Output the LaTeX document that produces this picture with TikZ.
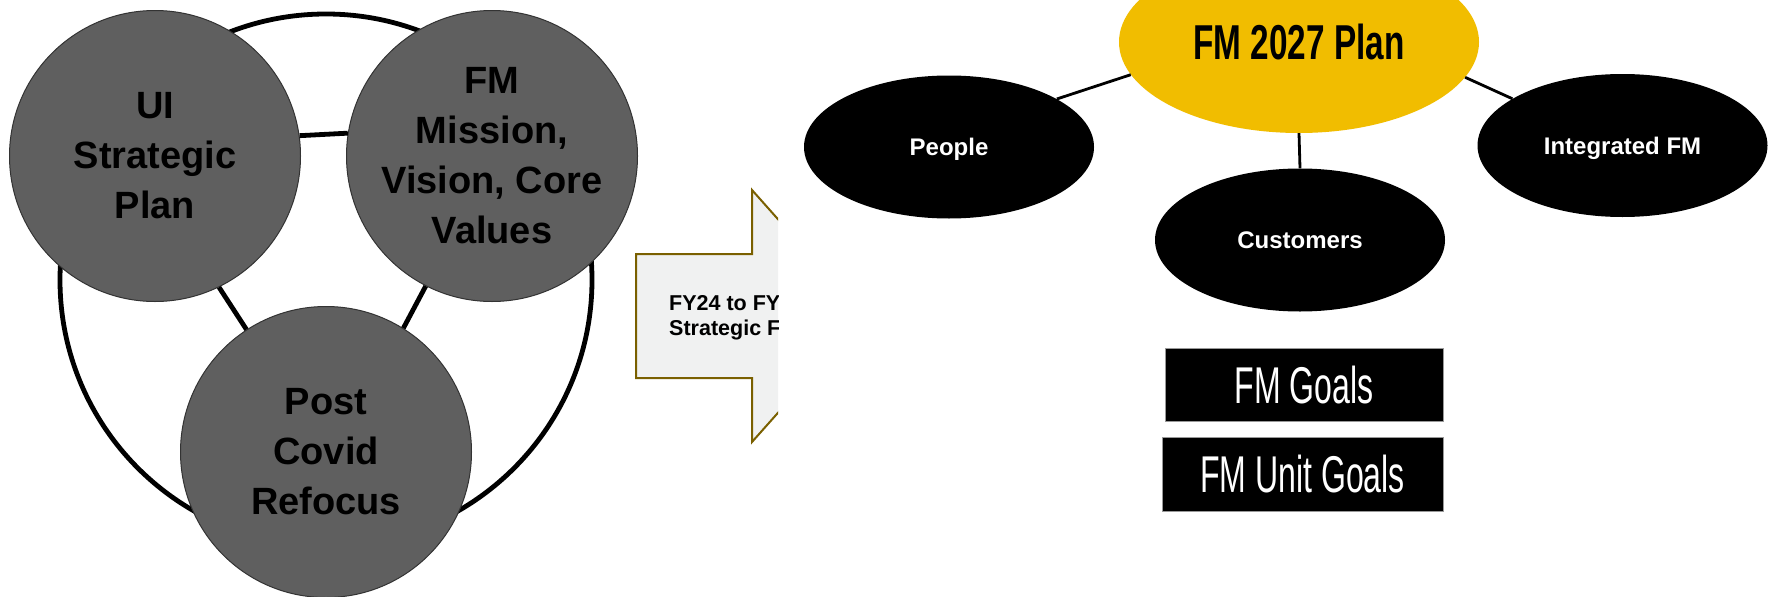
\documentclass[tikz,border=0pt]{standalone}
\usepackage{fontspec}
\setmainfont{Liberation Sans}
\newfontfamily\condbold[FakeStretch=0.68]{Liberation Sans}
\newfontfamily\condlight[FakeStretch=0.62]{Liberation Sans}
\usetikzlibrary{shapes.geometric}
\definecolor{circgray}{RGB}{95,95,95}
\definecolor{plangold}{RGB}{241,189,0}
\definecolor{arrowfill}{RGB}{240,241,241}
\definecolor{arrowedge}{RGB}{122,96,0}
\begin{document}
\begin{tikzpicture}[x=1pt,y=-1pt,
  bigcirc/.style={circle, fill=circgray, draw=black!80, line width=1pt, minimum size=291pt, inner sep=0pt, align=center, font=\fontsize{38}{50}\selectfont\bfseries},
  ringstyle/.style={circle, draw=black, line width=4.8pt, minimum size=532pt, inner sep=0pt},
  link/.style={line width=4.8pt, black},
  sat/.style={ellipse, fill=black, minimum width=290pt, minimum height=143pt, inner sep=0pt, text=white, font=\fontsize{24}{28}\selectfont\bfseries, text height=17.2pt, text depth=0pt},
  spoke/.style={line width=2.8pt, black},
  goalbox/.style={rectangle, fill=black, draw=black!40, line width=1pt, inner sep=0pt, text=white, font=\condlight\fontsize{51.7}{60}\selectfont, text height=37pt, text depth=0pt},
  arrowtext/.style={anchor=base west, inner sep=0pt, font=\fontsize{21.5}{25}\selectfont\bfseries}
]
\useasboundingbox (0,0) rectangle (1775,597);
\fill[white] (0,0) rectangle (1775,597);

% left: ring and circles
\node[ringstyle] (ring) at (326,280) {};
\node[bigcirc] (ui) at (155,156) {UI\\Strategic\\Plan};
\node[bigcirc] (fm) at (492,156) {FM\\Mission,\\Vision, Core\\Values};
\node[bigcirc] (post) at (326,452) {Post\\Covid\\Refocus};
\draw[link] (ui.8.7) -- (fm.171.3);
\draw[link] (ui.-64.7) -- (post.123.6);
\draw[link] (fm.-117.8) -- (post.58.1);

% middle: clipped arrow
\begin{scope}
  \clip (0,0) rectangle (778,597);
  \draw[fill=arrowfill, draw=arrowedge, line width=2pt]
    (636,254) -- (752,254) -- (752,190) -- (864,316) -- (752,442) -- (752,378) -- (636,378) -- cycle;
  \node[arrowtext] (arr1) at (669,310) {FY24 to FY};
  \node[arrowtext] (arr2) at (669,335) {Strategic F};
\end{scope}

% right: plan
\node[ellipse, fill=plangold, minimum width=360pt, minimum height=182pt, inner sep=0pt,
      font=\condbold\bfseries\fontsize{49}{55}\selectfont, text height=35pt, text depth=0pt] (plan) at (1299,42) {FM 2027 Plan};
\node[sat] (people) at (949,147) {People};
\node[sat] (cust) at (1300,240) {Customers};
\node[sat] (integ) at (1622.5,145.5) {Integrated FM};
\draw[spoke] (people.24.4) -- (plan.-169.3);
\draw[spoke] (plan.-12.8) -- (integ.157.2);
\draw[spoke] (plan.south) -- (cust.north);

\node[goalbox, minimum width=278pt, minimum height=73pt] (goals) at (1304,384.5) {FM Goals};
\node[goalbox, minimum width=281pt, minimum height=74pt] (unit) at (1302.5,474) {FM Unit Goals};
\end{tikzpicture}
\end{document}
